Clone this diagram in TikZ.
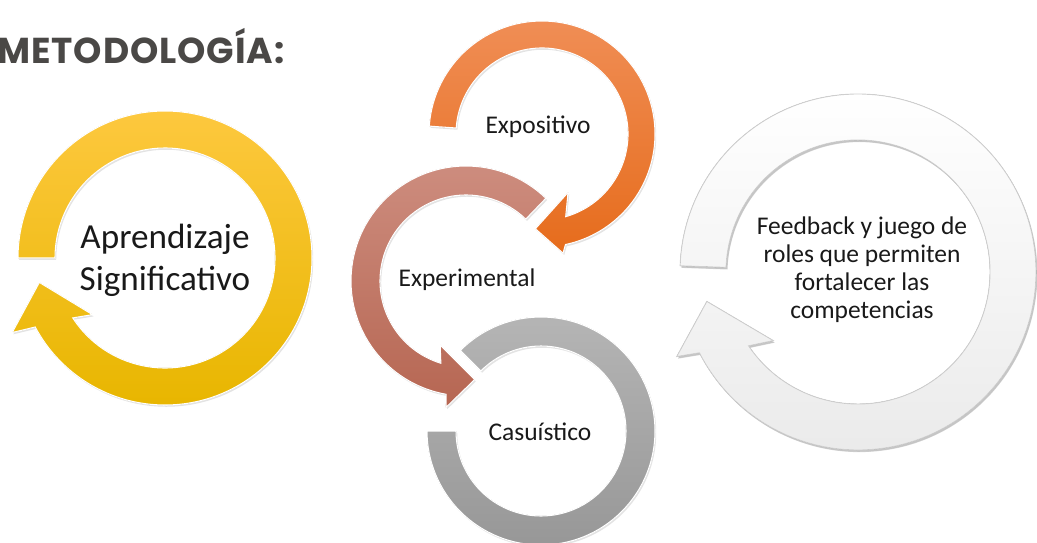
\documentclass[tikz,border=0pt]{standalone}
\usepackage{fontspec}
\setmainfont{Carlito}
\newfontfamily\titlefont[LetterSpace=2.5]{Poppins}
\usetikzlibrary{shadows}
\definecolor{yellowtop}{RGB}{253,200,62}
\definecolor{yellowbot}{RGB}{232,182,0}
\definecolor{orangetop}{RGB}{240,142,86}
\definecolor{orangebot}{RGB}{230,108,28}
\definecolor{browntop}{RGB}{206,142,128}
\definecolor{brownbot}{RGB}{182,102,82}
\definecolor{greytop}{RGB}{182,182,182}
\definecolor{greybot}{RGB}{150,150,150}
\definecolor{titlecol}{RGB}{74,72,70}
\definecolor{txtcol}{RGB}{25,25,25}
\tikzset{
    ring/.style={draw=white, line width=0.6pt,
        drop shadow={opacity=0.22, shadow xshift=0.7pt, shadow yshift=-1pt}},
    yellowring/.style={ring, top color=yellowtop, bottom color=yellowbot},
    orangering/.style={ring, top color=orangetop, bottom color=orangebot},
    brownring/.style={ring, top color=browntop, bottom color=brownbot},
    greyring/.style={ring, top color=greytop, bottom color=greybot},
    whitering/.style={ring, draw=gray!38, line width=0.5pt,
        top color=white, bottom color=gray!16,
        drop shadow={opacity=0.3, shadow xshift=0.8pt, shadow yshift=-1.2pt}},
    lbl/.style={text=txtcol, align=center, font=\fontsize{14.5}{16}\selectfont}
}
\begin{document}
\begin{tikzpicture}[x=0.02cm, y=0.02cm]
    \useasboundingbox (0,0) rectangle (1037,542);
    \node[anchor=base west, inner sep=0pt, text=titlecol,
      font=\titlefont\bfseries\fontsize{20.5}{24}\selectfont] (T) at (-3,479)
    {METODOLOGÍA:};
    % yellow ring
    \begin{scope}[shift={(165,284)}]
    \fill[yellowring] (180:147) arc[start angle=180, end angle=-152, radius=147]
      -- (-154:170) -- (-169:128) -- (-142:92) -- (-147:110)
      arc[start angle=-147, end angle=180, radius=110] -- cycle;
    \end{scope}
    % white ring
    \begin{scope}[shift={(858,270)}]
    \fill[whitering] (178:178) arc[start angle=178, end angle=-153, radius=178]
      -- (-155:200) -- (-169:154) -- (-141:109) -- (-146:132)
      arc[start angle=-146, end angle=178, radius=132] -- cycle;
    \end{scope}
    % grey ring
    \begin{scope}[shift={(541,111)}]
    \fill[greyring] (135:114) arc[start angle=135, end angle=-180, radius=114]
      -- (-180:85) arc[start angle=-180, end angle=135, radius=85] -- cycle;
    \end{scope}
    % brown ring
    \begin{scope}[shift={(466,261)}]
    \fill[brownring] (46:115) arc[start angle=46, end angle=260, radius=115]
      -- (261:128) -- (275:99) -- (248:69) -- (253:86)
      arc[start angle=253, end angle=46, radius=86] -- cycle;
    \end{scope}
    % orange ring
    \begin{scope}[shift={(542,408)}]
    \fill[orangering] (176:113) arc[start angle=176, end angle=-78, radius=113]
      -- (-80:121) -- (-94:95) -- (-66:64) -- (-74:86)
      arc[start angle=-74, end angle=176, radius=86] -- cycle;
    \end{scope}
    \node[lbl, font=\fontsize{20}{24}\selectfont] (A) at (165,282)
    {Aprendizaje\\Significativo};
    \node[lbl] (E) at (538,415) {Expositivo};
    \node[lbl] (X) at (467,262) {Experimental};
    \node[lbl] (C) at (540,110) {Casuístico};
    \node[lbl] (F) at (862,272)
    {Feedback y juego de\\roles que permiten\\fortalecer las\\competencias};
  \end{tikzpicture}
\end{document}
